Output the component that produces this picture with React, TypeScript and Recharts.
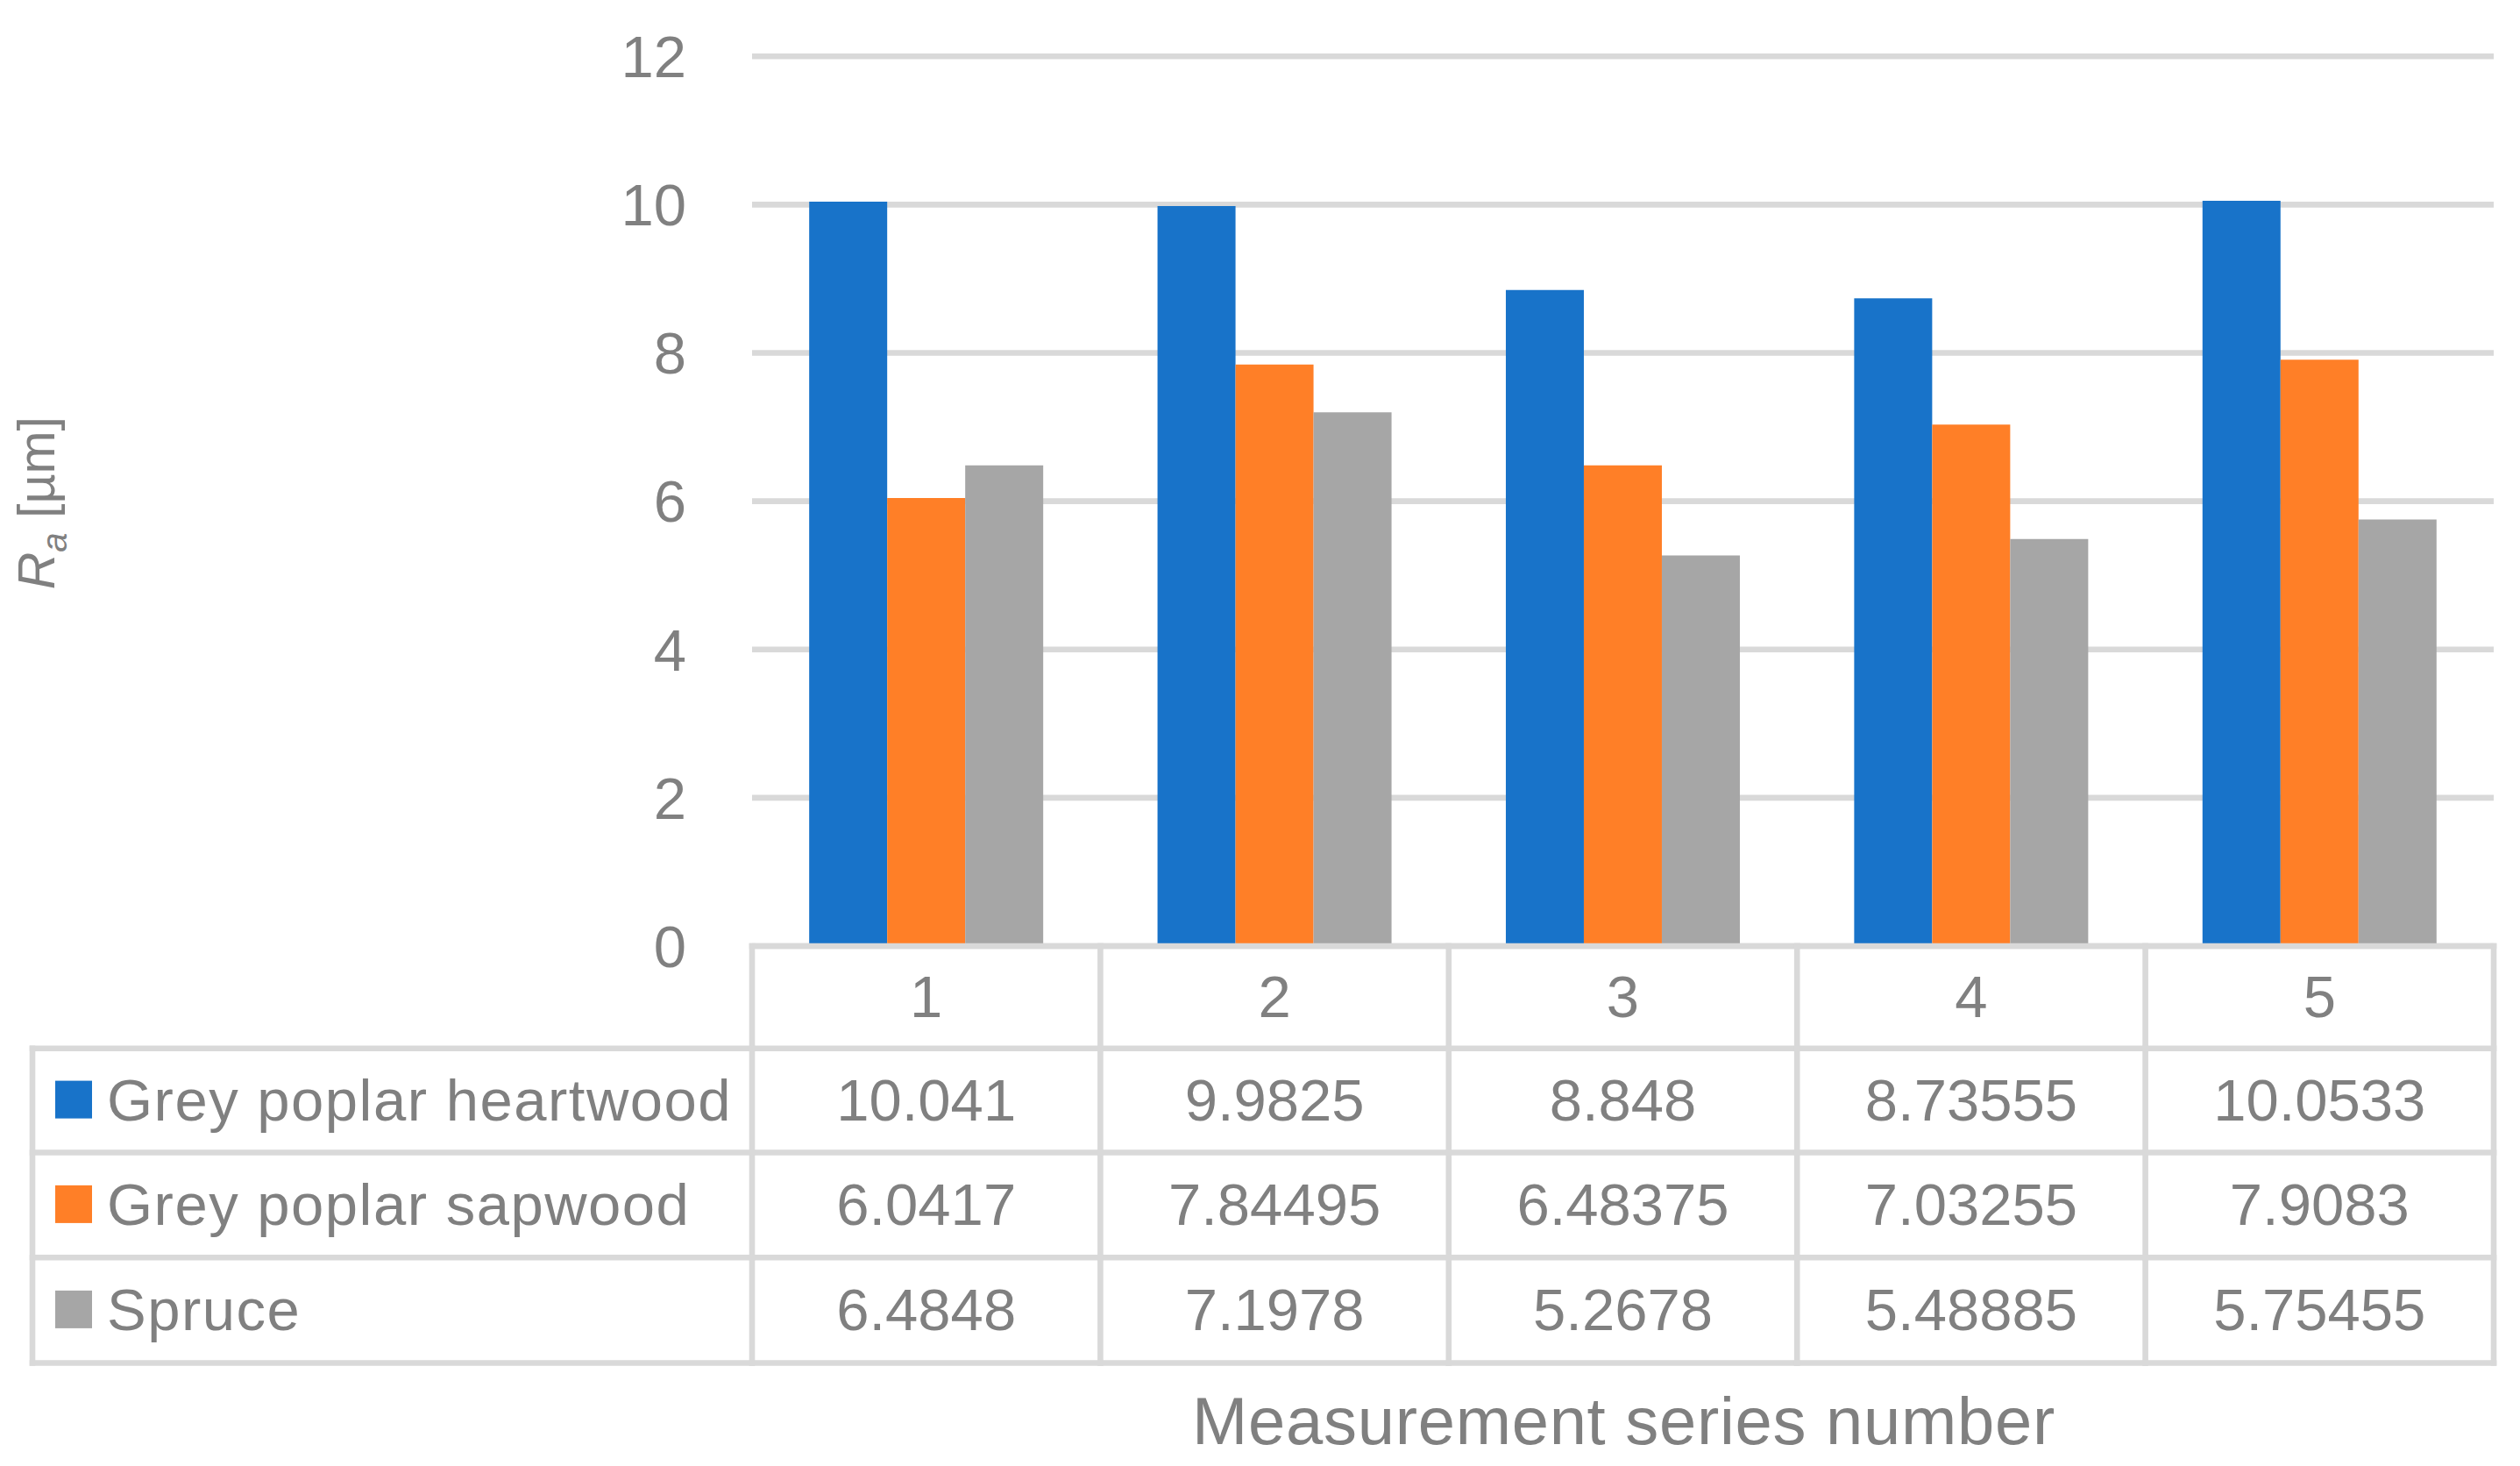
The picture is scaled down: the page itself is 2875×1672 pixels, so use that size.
import React from 'react';
import { BarChart, Bar, XAxis, YAxis, CartesianGrid } from 'recharts';

const FONT = '"Liberation Sans", Arial, sans-serif';
const TEXT = '#808080';
const LINE = '#d9d9d9';
const LW = 6.6;

// ---- data ----
const categories = ['1', '2', '3', '4', '5'];
const heartwood = [10.041, 9.9825, 8.848, 8.73555, 10.0533];
const sapwood = [6.0417, 7.84495, 6.48375, 7.03255, 7.9083];
const spruce = [6.4848, 7.1978, 5.2678, 5.48885, 5.75455];
const seriesKeys = ['heartwood', 'sapwood', 'spruce'];
const seriesNames = ['Grey poplar heartwood', 'Grey poplar sapwood', 'Spruce'];
const seriesColors = ['#1873C9', '#FF7F27', '#A6A6A6'];
const seriesValues = [heartwood, sapwood, spruce];
const yTicks = [0, 2, 4, 6, 8, 10, 12];
const xTitle = 'Measurement series number';

const data = categories.map((c, i) => ({
  cat: c,
  heartwood: heartwood[i],
  sapwood: sapwood[i],
  spruce: spruce[i],
}));

// ---- table styling (offsets from the plot bottom) ----
const ROW_LINES = [116.7, 235.5, 355.3, 475.5];
const HEADER_BASE = 81;
const ROW_BASE = [198.5, 318, 438];
const LEGEND_LEFT = 37;
const SWATCH_X = 63;
const SWATCH = 43;
const NAME_X = 122;
const CELL_FONT = 67;

function TableTick(props: any) {
  const { x, y, payload, index, width, visibleTicksCount } = props;
  const colW =
    payload && payload.offset ? payload.offset * 2 : (width || 1987) / (visibleTicksCount || 5);
  const left = x - colW / 2;
  const right = x + colW / 2;
  const bottom = y + ROW_LINES[ROW_LINES.length - 1];
  const lineProps = { stroke: LINE, strokeWidth: LW, strokeLinecap: 'square' as const };
  const els: any[] = [];
  els.push(<line key="top" x1={left} x2={right} y1={y} y2={y} {...lineProps} />);
  ROW_LINES.forEach((r, k) =>
    els.push(<line key={'h' + k} x1={left} x2={right} y1={y + r} y2={y + r} {...lineProps} />)
  );
  els.push(<line key="vr" x1={right} x2={right} y1={y} y2={bottom} {...lineProps} />);
  const textProps = { fontFamily: FONT, fontSize: CELL_FONT, fill: TEXT, textAnchor: 'middle' as const };
  els.push(
    <text key="hdr" x={x} y={y + HEADER_BASE} {...textProps}>
      {payload.value}
    </text>
  );
  seriesValues.forEach((vals, k) =>
    els.push(
      <text key={'v' + k} x={x} y={y + ROW_BASE[k]} {...textProps}>
        {String(vals[index])}
      </text>
    )
  );
  if (index === 0) {
    els.push(<line key="vl" x1={left} x2={left} y1={y} y2={bottom} {...lineProps} />);
    els.push(
      <line key="ll" x1={LEGEND_LEFT} x2={LEGEND_LEFT} y1={y + ROW_LINES[0]} y2={bottom} {...lineProps} />
    );
    ROW_LINES.forEach((r, k) =>
      els.push(
        <line key={'lh' + k} x1={LEGEND_LEFT} x2={left} y1={y + r} y2={y + r} {...lineProps} />
      )
    );
    seriesNames.forEach((name, k) => {
      const center = y + (ROW_LINES[k] + ROW_LINES[k + 1]) / 2;
      els.push(
        <rect
          key={'sw' + k}
          x={SWATCH_X}
          y={center - SWATCH / 2 - 1}
          width={SWATCH - 1}
          height={SWATCH}
          fill={seriesColors[k]}
        />
      );
      els.push(
        <text
          key={'n' + k}
          x={NAME_X}
          y={y + ROW_BASE[k]}
          fontFamily={FONT}
          fontSize={CELL_FONT}
          fill={TEXT}
          textAnchor="start"
          letterSpacing={1.5}
        >
          {name}
        </text>
      );
    });
  }
  return <g>{els}</g>;
}

function XTitle(props: any) {
  const vb = props.viewBox || { x: 858, y: 1079, width: 1987, height: 593 };
  return (
    <text
      x={vb.x + vb.width / 2 + 1}
      y={vb.y + 568}
      fontFamily={FONT}
      fontSize={76}
      fill={TEXT}
      textAnchor="middle"
      letterSpacing={0.7}
    >
      {xTitle}
    </text>
  );
}

function YTitle(props: any) {
  const vb = props.viewBox || { x: 778, y: 64, width: 80, height: 1015 };
  const cx = 62;
  const cy = vb.y + vb.height / 2 + 2;
  return (
    <text
      x={cx}
      y={cy}
      transform={`rotate(-90 ${cx} ${cy})`}
      fontFamily={FONT}
      fontSize={59}
      fill={TEXT}
      textAnchor="middle"
    >
      <tspan fontStyle="italic">R</tspan>
      <tspan fontStyle="italic" fontSize={40} dy={14}>
        a
      </tspan>
      <tspan dy={-14}> [µm]</tspan>
    </text>
  );
}

export default function App() {
  return (
    <div style={{ position: 'absolute', left: 0, top: 0, background: '#ffffff' }}>
      <BarChart
        width={2875}
        height={1672}
        data={data}
        margin={{ top: 64.3, right: 30, bottom: 0, left: 778 }}
        barCategoryGap="16.4%"
        barGap={0}
      >
        <CartesianGrid horizontal vertical={false} stroke={LINE} strokeWidth={LW} />
        <YAxis
          width={80}
          domain={[0, 12]}
          ticks={yTicks}
          interval={0}
          axisLine={false}
          tickLine={false}
          tickSize={0}
          tickMargin={75}
          tick={{ fontFamily: FONT, fontSize: 67, fill: TEXT }}
          label={YTitle}
        />
        <XAxis
          dataKey="cat"
          height={593}
          interval={0}
          axisLine={false}
          tickLine={false}
          tickSize={0}
          tickMargin={0}
          tick={TableTick}
          label={XTitle}
        />
        {seriesKeys.map((k, i) => (
          <Bar key={k} dataKey={k} name={seriesNames[i]} fill={seriesColors[i]} isAnimationActive={false} />
        ))}
      </BarChart>
    </div>
  );
}
